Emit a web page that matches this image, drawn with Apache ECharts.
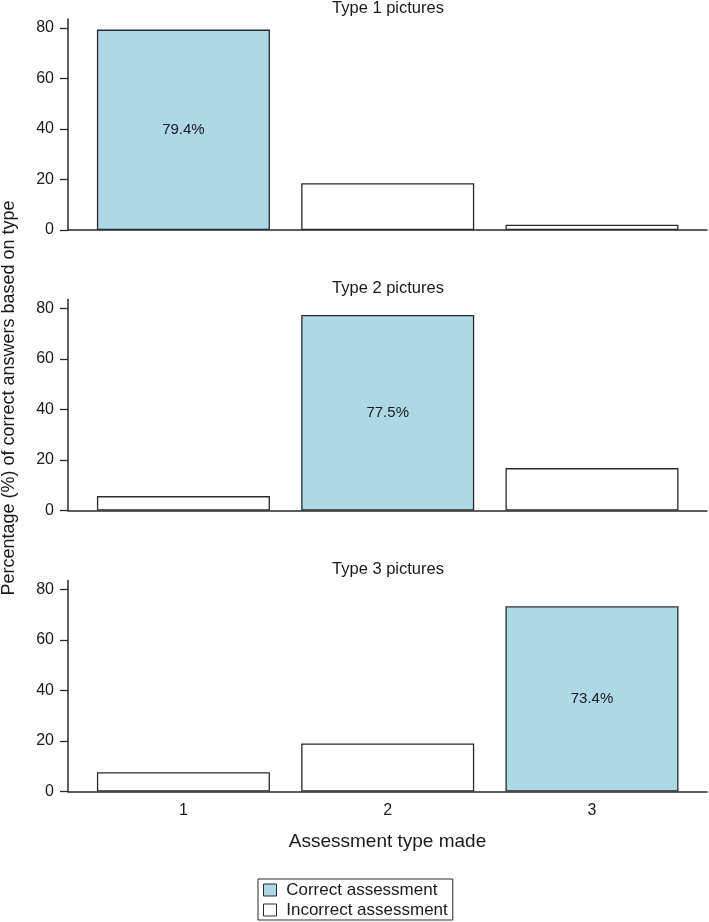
<!DOCTYPE html>
<html>
<head>
<meta charset="utf-8">
<script src="https://cdn.jsdelivr.net/npm/echarts@6/dist/echarts.min.js"></script>
<style>
  html, body { margin: 0; padding: 0; background: #fff; }
  #chart { width: 709px; height: 922px; }
</style>
</head>
<body>
<div id="chart"></div>
<script>
// ---- data ----
const categories = [1, 2, 3];                       // assessment type made
const panelTitles = ['Type 1 pictures', 'Type 2 pictures', 'Type 3 pictures'];
const type1Values = [79.4, 18.5, 2.1];
const type2Values = [5.7, 77.5, 16.8];
const type3Values = [7.6, 19.0, 73.4];
const yTickValues = [0, 20, 40, 60, 80];
const seriesNames = ['Correct assessment', 'Incorrect assessment'];
const xAxisTitle = 'Assessment type made';
const yAxisTitle = 'Percentage (%) of correct answers based on type';

// ---- layout / style ----
const FONT = '"Liberation Sans", Arial, Helvetica, sans-serif';
const TEXT = '#1a1a1a';
const LINE = '#2a2a2a';
const BLUE = '#ADD8E6';
const panelValues = [type1Values, type2Values, type3Values];
const gridTops = [19, 299.5, 580.5];
const gridHeight = 211;
const titleCenters = [8, 288.6, 569.6];

const grids = [], xAxes = [], yAxes = [], titles = [], series = [];
panelValues.forEach((vals, p) => {
  grids.push({ left: 68, right: 2, top: gridTops[p], height: gridHeight });
  const isLast = p === panelValues.length - 1;
  xAxes.push({
    type: 'value', gridIndex: p, min: 0.435, max: 3.563,
    axisLine: { show: true, onZero: false, lineStyle: { color: LINE, width: 1.5 } },
    axisTick: { show: false },
    splitLine: { show: false },
    axisLabel: {
      show: isLast, customValues: categories, margin: 11,
      fontFamily: FONT, fontSize: 16, color: TEXT
    },
    name: isLast ? xAxisTitle : '',
    nameLocation: 'middle', nameGap: 41,
    nameTextStyle: { fontFamily: FONT, fontSize: 19, color: TEXT }
  });
  yAxes.push({
    type: 'value', gridIndex: p, min: 0, max: 83.6,
    axisLine: { show: true, lineStyle: { color: LINE, width: 1.5 } },
    axisTick: { show: true, length: 8, customValues: yTickValues, lineStyle: { color: LINE, width: 1.3 } },
    splitLine: { show: false },
    axisLabel: { customValues: yTickValues, margin: 14, fontFamily: FONT, fontSize: 16, color: TEXT }
  });
  titles.push({
    text: panelTitles[p], left: 388, textAlign: 'center', top: titleCenters[p] - 8.5, padding: 0,
    textStyle: { fontFamily: FONT, fontSize: 16.5, lineHeight: 17, fontWeight: 'normal', color: TEXT }
  });
  const correct = [], incorrect = [];
  categories.forEach((c, i) => {
    if (i === p) correct.push([c, vals[i]]);
    else incorrect.push([c, vals[i]]);
  });
  series.push({
    name: seriesNames[0], type: 'bar', xAxisIndex: p, yAxisIndex: p,
    data: correct, barWidth: 173, barGap: '-100%',
    itemStyle: { color: BLUE, borderColor: LINE, borderWidth: 1.3 },
    label: {
      show: true, position: 'inside', formatter: (d) => d.value[1].toFixed(1) + '%',
      fontFamily: FONT, fontSize: 15, color: TEXT
    },
    emphasis: { disabled: true }
  });
  series.push({
    name: seriesNames[1], type: 'bar', xAxisIndex: p, yAxisIndex: p,
    data: incorrect, barWidth: 173, barGap: '-100%',
    itemStyle: { color: '#ffffff', borderColor: LINE, borderWidth: 1.3 },
    emphasis: { disabled: true }
  });
});

const chart = echarts.init(document.getElementById('chart'), null, { renderer: 'canvas' });
chart.setOption({
  animation: false,
  backgroundColor: '#ffffff',
  title: titles,
  grid: grids,
  xAxis: xAxes,
  yAxis: yAxes,
  legend: {
    orient: 'vertical', left: 258, top: 879,
    padding: [1, 5, 0, 5],
    borderColor: LINE, borderWidth: 1,
    itemWidth: 13, itemHeight: 12, itemGap: 0,
    icon: 'rect',
    selectedMode: false,
    formatter: ' {name}',
    textStyle: { fontFamily: FONT, fontSize: 17, lineHeight: 20, color: TEXT },
    data: [
      { name: seriesNames[0], itemStyle: { color: BLUE, borderColor: LINE, borderWidth: 1 } },
      { name: seriesNames[1], itemStyle: { color: '#ffffff', borderColor: LINE, borderWidth: 1 } }
    ]
  },
  graphic: [{
    type: 'text', x: 9, y: 398, rotation: Math.PI / 2,
    style: {
      text: yAxisTitle, fill: TEXT,
      font: '18px ' + FONT, textAlign: 'center', textVerticalAlign: 'middle'
    }
  }],
  series: series
});
</script>
</body>
</html>
